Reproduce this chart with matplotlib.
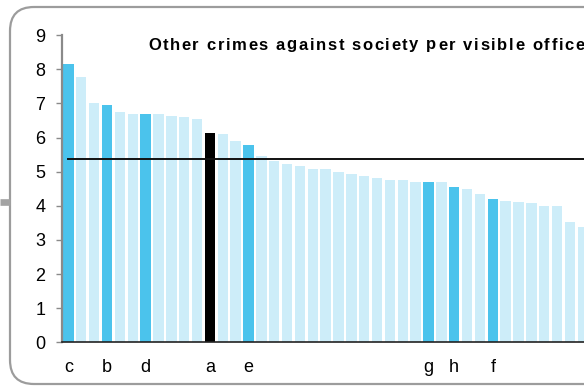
import matplotlib
matplotlib.use("Agg")
import matplotlib.pyplot as plt
from matplotlib.patches import FancyBboxPatch
from matplotlib.font_manager import FontProperties, findfont
from matplotlib.ft2font import FT2Font

# bar values, sorted high to low
values = [8.16, 7.78, 7.01, 6.96, 6.74, 6.69, 6.68, 6.68, 6.64, 6.59,
          6.54, 6.13, 6.10, 5.89, 5.78, 5.46, 5.32, 5.22, 5.17, 5.08,
          5.07, 4.98, 4.92, 4.87, 4.82, 4.77, 4.77, 4.71, 4.71, 4.71,
          4.55, 4.48, 4.36, 4.21, 4.15, 4.12, 4.08, 4.00, 4.00, 3.53,
          3.38]
# labelled bars: position -> letter
labels = {0: "c", 3: "b", 6: "d", 11: "a", 14: "e", 28: "g", 30: "h", 33: "f"}
focus = "a"
average = 5.36
title = "Other crimes against society per visible officer"
yticks = list(range(0, 10))

LIGHT = "#cdedf9"
MID = "#4bc3ec"
W, H = 584, 387

plt.rcParams["font.family"] = ["Liberation Sans", "DejaVu Sans"]
fig = plt.figure(figsize=(W / 100, H / 100), dpi=100)

# rounded frame in pixel coords
bg = fig.add_axes([0, 0, 1, 1], zorder=0)
bg.set_xlim(0, W)
bg.set_ylim(H, 0)
bg.axis("off")
bg.add_patch(FancyBboxPatch((10, 7), 700, 377,
                            boxstyle="round,pad=0,rounding_size=24",
                            fill=False, ec="#9c9c9c", lw=1.6))
bg.plot([0, 10], [201.5, 201.5], color="#a3a3a3", lw=4.8, solid_capstyle="butt")

ax = fig.add_axes([62 / W, 1 - 342.3 / H, (W - 62) / W, 307.1 / H], zorder=1)
ax.patch.set_alpha(0)

x = list(range(len(values)))
colors = []
for i in x:
    lab = labels.get(i)
    if lab == focus:
        colors.append("black")
    elif lab:
        colors.append(MID)
    else:
        colors.append(LIGHT)
ax.bar(x, values, width=0.81, color=colors, zorder=2)
ax.plot([0, len(values) + 2], [average, average], color="#111111", lw=1.4, zorder=3)

ax.set_xlim(-0.5, 40.09)
ax.set_ylim(0, 9)
ax.set_yticks(yticks)
ax.set_xticks(list(labels.keys()))
ax.set_xticklabels(list(labels.values()))

for s in ["top", "right"]:
    ax.spines[s].set_visible(False)
ax.spines["left"].set_color("#8a8a8a")
ax.spines["left"].set_linewidth(1.6)
ax.spines["bottom"].set_color("#222222")
ax.spines["bottom"].set_linewidth(1.2)
ax.tick_params(axis="y", length=4, width=1, color="#8a8a8a", pad=8, labelsize=13)
ax.tick_params(axis="x", length=0, pad=12, labelsize=13)

# title with wide letter spacing, drawn char by char
prop = FontProperties(family="Liberation Sans", weight="bold", size=12)
font = FT2Font(findfont(prop))
font.set_size(12, 100)
px = 148
for ch in title:
    fig.text(px / W, 1 - 49.5 / H, ch, fontproperties=prop, va="baseline", ha="left")
    px += font.load_char(ord(ch)).linearHoriAdvance / 65536 + 1.6

fig.savefig("out.png", dpi=100)
